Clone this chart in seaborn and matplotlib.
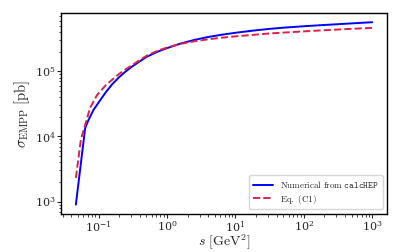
import numpy as np
import pandas as pd
import matplotlib
matplotlib.use("Agg")
import matplotlib.pyplot as plt
import seaborn as sns

# Numerical result (calcHEP)
s_num = [0.0466, 0.0637, 0.0708, 0.0841, 0.1, 0.126, 0.158, 0.2, 0.251, 0.316,
         0.398, 0.501, 0.631, 0.794, 1.0, 1.58, 2.51, 3.98, 6.31, 10, 17.8,
         31.6, 56.2, 100, 178, 316, 562, 1000]
sigma_num = [900, 13400, 17600, 25400, 33100, 46800, 63100, 81300, 100000,
             120000, 141000, 166000, 186000, 207000, 226000, 266000, 302000,
             335000, 363000, 389000, 419000, 447000, 470000, 490000, 509000,
             527000, 546000, 565000]

# Analytic approximation, Eq. (C1)
s_eq = [0.0466, 0.0551, 0.0637, 0.0753, 0.0944, 0.126, 0.148, 0.2, 0.259,
        0.316, 0.406, 0.501, 0.631, 0.794, 1.0, 1.58, 2.51, 3.98, 6.31, 10,
        31.6, 100, 316, 1000]
sigma_eq = [2310, 8870, 15000, 27500, 42700, 60300, 70000, 91200, 110000,
            126000, 150000, 172000, 193000, 213000, 231000, 263000, 288000,
            309000, 327000, 343000, 380000, 409000, 437000, 463000]

sns.set_style("ticks")
plt.rcParams["font.family"] = ["DejaVu Serif"]
plt.rcParams["mathtext.fontset"] = "cm"

fig, ax = plt.subplots(figsize=(4.07, 2.52), dpi=100)
fig.subplots_adjust(left=0.150, right=0.951, top=0.948, bottom=0.152)

df_num = pd.DataFrame({"s": s_num, "sigma": sigma_num})
df_eq = pd.DataFrame({"s": s_eq, "sigma": sigma_eq})

sns.lineplot(data=df_num, x="s", y="sigma", ax=ax, color="blue", lw=1.4,
             label=r"$\mathrm{Numerical\ from\ }\mathtt{calcHEP}$")
sns.lineplot(data=df_eq, x="s", y="sigma", ax=ax, color="#e0204a", lw=1.4,
             linestyle="--", label=r"$\mathrm{Eq.\ (C1)}$")

ax.set_xscale("log")
ax.set_yscale("log")
ax.set_xlabel(r"$s\ [\mathrm{GeV}^2]$", fontsize=10, labelpad=-1)
ax.set_ylabel(r"$\sigma_{\mathrm{EMPP}}\ [\mathrm{pb}]$", fontsize=10.5, labelpad=2)
ax.tick_params(labelsize=8, length=3, width=0.8, pad=1)
ax.tick_params(which="minor", length=1.8, width=0.6)
for sp in ax.spines.values():
    sp.set_visible(True)
    sp.set_color("black")
    sp.set_linewidth(1.0)

ax.legend(loc="lower right", fontsize=6.5, frameon=True, handlelength=2.2,
          labelspacing=0.3, borderpad=0.4)

fig.savefig("out.png", dpi=100)
